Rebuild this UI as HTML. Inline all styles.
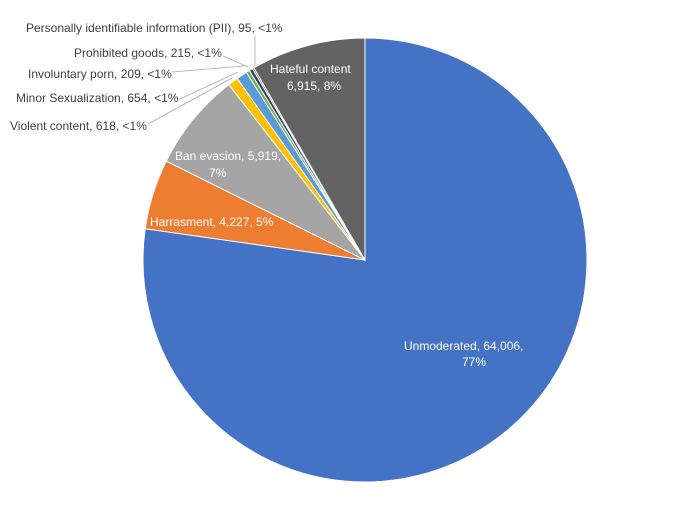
<!DOCTYPE html>
<html><head><style>
body{margin:0;background:#fff;}
svg text{font-family:"Liberation Sans",sans-serif;font-size:12px;fill:#404040;}
</style></head><body>
<svg id="s" width="700" height="501" viewBox="0 0 700 501" xmlns="http://www.w3.org/2000/svg">
<g id="p"></g>
<g stroke="#a6a6a6" stroke-width="0.8" fill="none">
<polyline points="255,36 255,66"/>
<polyline points="223,56 248,67"/>
<polyline points="172,72 244,66"/>
<polyline points="180,99 238,72"/>
<polyline points="148,124 232,78"/>
</g>
<text x="26" y="32">Personally identifiable information (PII), 95, &lt;1%</text>
<text x="74" y="57">Prohibited goods, 215, &lt;1%</text>
<text x="28" y="78">Involuntary porn, 209, &lt;1%</text>
<text x="16" y="102">Minor Sexualization, 654, &lt;1%</text>
<text x="10" y="130">Violent content, 618, &lt;1%</text>
<text x="270" y="73" style="fill:#fff">Hateful content</text>
<text x="287" y="90" style="fill:#fff">6,915, 8%</text>
<text x="175" y="160" style="fill:#fff">Ban evasion, 5,919,</text>
<text x="209" y="177" style="fill:#fff">7%</text>
<text x="150" y="226" style="fill:#fff">Harrasment, 4,227, 5%</text>
<text x="404" y="350" style="fill:#fff">Unmoderated, 64,006,</text>
<text x="462" y="366" style="fill:#fff">77%</text>
</svg>
<script>
var d=[[64006,"#4472C4"],[4227,"#ED7D31"],[5919,"#A5A5A5"],[618,"#FFC000"],[654,"#5B9BD5"],[209,"#70AD47"],[215,"#264478"],[95,"#9E480E"],[6915,"#636363"]];
var t=0;d.forEach(function(e){t+=e[0]});
var cx=365,cy=260,r=222,a=0,h="";
d.forEach(function(e){var b=a+e[0]/t*2*Math.PI;
var x1=cx+r*Math.sin(a),y1=cy-r*Math.cos(a),x2=cx+r*Math.sin(b),y2=cy-r*Math.cos(b);
h+='<path d="M'+cx+','+cy+'L'+x1+','+y1+'A'+r+','+r+' 0 '+((b-a)>Math.PI?1:0)+' 1 '+x2+','+y2+'Z" fill="'+e[1]+'" stroke="#fff" stroke-width="1"/>';a=b;});
document.getElementById("p").innerHTML=h;
</script>
</body></html>
